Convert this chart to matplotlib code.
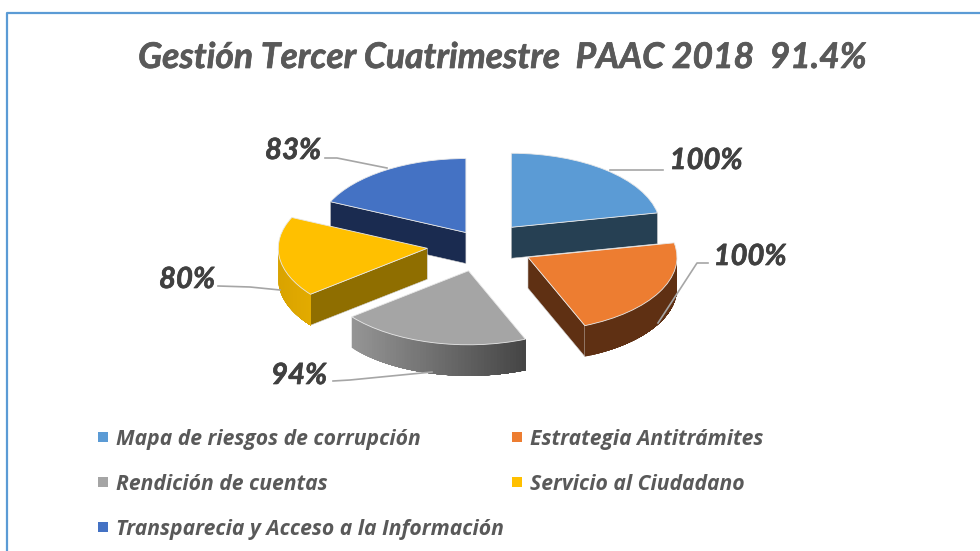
import numpy as np
import matplotlib
matplotlib.use('Agg')
import matplotlib.pyplot as plt
import matplotlib.patheffects as pe
from matplotlib.colors import to_rgb

title = 'Gestión Tercer Cuatrimestre  PAAC 2018  91.4%'
categories = ['Mapa de riesgos de corrupción', 'Estrategia Antitrámites', 'Rendición de cuentas',
              'Servicio al Ciudadano', 'Transparecia y Acceso a la Información']
values = [100, 100, 94, 80, 83]

colors = ['#5B9BD5', '#ED7D31', '#A5A5A5', '#FFC000', '#4472C4']
face_colors = ['#264053', '#5F3013', '#6E6E6E', '#8F6E00', '#1A2B50']
arc_left = ['#264053', '#5F3013', '#959595', '#D9A300', '#1A2B50']
arc_right = ['#264053', '#5F3013', '#444444', '#E3AB00', '#1A2B50']
explode = [0.31, 0.35, 0.36, 0.37, 0.2]

plt.rcParams['font.family'] = ['Lato', 'DejaVu Sans']
TEXT = dict(fontweight='bold', fontstyle='italic')

fig = plt.figure(figsize=(9.8, 5.51), dpi=100, facecolor='white')

# pie squashed to an ellipse: 1 data unit = 149 px across, 74 px down
ax = fig.add_axes([0, 0, 1, 1])
wedges, _ = ax.pie(values, colors=colors, explode=explode, startangle=90, counterclock=False,
                   wedgeprops=dict(edgecolor='#E8E8E8', linewidth=0.6))
ax.set_aspect('auto')
ax.set_xlim(-482 / 149, (980 - 482) / 149)
ax.set_ylim((245 - 551) / 74, 245 / 74)
ax.axis('off')
depth = 31 / 74

for i, w in enumerate(wedges):
    cx, cy = w.center
    z = 5 - cy
    w.set_zorder(z + 0.5)
    # cut faces that look towards the viewer
    for t in (w.theta1, w.theta2):
        c = np.cos(np.radians(t))
        if (t == w.theta1 and c > 1e-6) or (t == w.theta2 and c < -1e-6):
            rx = cx + np.cos(np.radians(t))
            ry = cy + np.sin(np.radians(t))
            ax.fill([cx, rx, rx, cx], [cy, ry, ry - depth, cy - depth], facecolor=face_colors[i],
                    edgecolor='#D0D0D0', linewidth=0.4, zorder=z)
    # outer rim, lower half only, each strip runs to the end so no seams show
    ts = np.radians(np.linspace(w.theta1, w.theta2, 60))
    ts = ts[np.sin(ts) < 0]
    if len(ts) > 1:
        xs = cx + np.cos(ts)
        ys = cy + np.sin(ts)
        left = np.array(to_rgb(arc_left[i]))
        right = np.array(to_rgb(arc_right[i]))
        order = np.argsort(xs)
        xs, ys = xs[order], ys[order]
        for j in range(len(ts) - 1):
            f = (xs[j] - xs.min()) / (xs.max() - xs.min())
            col = left + (right - left) * f
            ax.fill(np.r_[xs[j:], xs[j:][::-1]], np.r_[ys[j:], ys[j:][::-1] - depth],
                    facecolor=col, edgecolor='none', zorder=z)

# overlay in image pixels for frame, labels and legend
over = fig.add_axes([0, 0, 1, 1], facecolor='none')
over.set_xlim(0, 980)
over.set_ylim(551, 0)
over.axis('off')

heavy = [pe.withStroke(linewidth=0.5, foreground='#595959')]
over.plot([7, 7, 980], [551, 13, 13], color='#5B9BD5', lw=1.6)
over.text(502, 58, title, ha='center', va='center', fontsize=25.5, color='#595959',
          path_effects=heavy, **TEXT)

label_pos = [(706, 161), (750, 257), (299, 376), (187, 280), (293, 151)]
leaders = [([610, 663], [170, 170]),
           ([658, 697, 708], [323, 263, 263]),
           ([333, 350, 432], [381, 380, 372]),
           ([218, 250, 280], [286, 287, 290]),
           ([325, 337, 387], [158, 158, 168])]
for v, p, (lx, ly) in zip(values, label_pos, leaders):
    over.plot(lx, ly, color='#A6A6A6', lw=1.2)
    over.text(p[0], p[1], f'{v}%', ha='center', va='center', fontsize=21, color='#404040',
              path_effects=[pe.withStroke(linewidth=0.5, foreground='#404040')], **TEXT)

for i, name in enumerate(categories):
    x = 103 if i % 2 == 0 else 517
    y = 437 + 45 * (i // 2)
    over.scatter([x], [y], marker='s', s=42, color=colors[i], linewidths=0)
    over.text(x + 13, y + 2, name, ha='left', va='center', fontsize=15.2, color='#595959',
              family=['Open Sans', 'DejaVu Sans'], **TEXT)

fig.savefig('out.png', dpi=100)
